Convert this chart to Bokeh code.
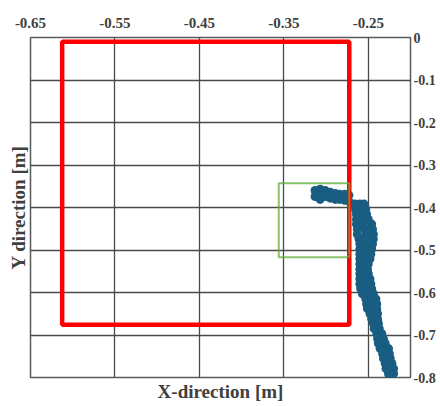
from bokeh.plotting import figure
from bokeh.models import LinearAxis, FixedTicker, Range1d
from bokeh.embed import file_html
from bokeh.resources import INLINE

# ---- data ----
x_ticks = [-0.65, -0.55, -0.45, -0.35, -0.25]
x_tick_labels = ["-0.65", "-0.55", "-0.45", "-0.35", "-0.25"]
x_grid = [-0.65, -0.55, -0.45, -0.35, -0.25]
y_ticks = [0.0, -0.1, -0.2, -0.3, -0.4, -0.5, -0.6, -0.7, -0.8]
y_tick_labels = ["0", "-0.1", "-0.2", "-0.3", "-0.4", "-0.5", "-0.6", "-0.7", "-0.8"]

# red workspace rectangle
red_box = dict(left=-0.6125, right=-0.2725, top=-0.010, bottom=-0.676)
# green region rectangle
green_box = dict(left=-0.356, right=-0.2725, top=-0.343, bottom=-0.517)

# trajectory: head part
head_x = [-0.313, -0.313, -0.307, -0.307, -0.307, -0.301, -0.301, -0.295, -0.295,
          -0.289, -0.289, -0.284, -0.284, -0.278, -0.278, -0.273, -0.273]
head_y = [-0.360, -0.374, -0.357, -0.371, -0.381, -0.360, -0.374, -0.364, -0.378,
          -0.367, -0.381, -0.369, -0.381, -0.369, -0.383, -0.371, -0.385]

# trajectory: descending part (y level, x positions across the trail)
trail_rows = [
    (-0.392, [-0.266, -0.260, -0.255]),
    (-0.404, [-0.265, -0.259, -0.253]),
    (-0.416, [-0.264, -0.258, -0.252]),
    (-0.428, [-0.264, -0.257, -0.250]),
    (-0.439, [-0.264, -0.256, -0.246]),
    (-0.451, [-0.263, -0.254, -0.245]),
    (-0.463, [-0.263, -0.253, -0.244]),
    (-0.474, [-0.261, -0.253, -0.244]),
    (-0.486, [-0.260, -0.253, -0.245]),
    (-0.498, [-0.260, -0.253, -0.246]),
    (-0.510, [-0.260, -0.253, -0.247]),
    (-0.521, [-0.260, -0.254, -0.248]),
    (-0.533, [-0.260, -0.254, -0.250]),
    (-0.545, [-0.260, -0.256, -0.251]),
    (-0.556, [-0.260, -0.254, -0.250]),
    (-0.568, [-0.260, -0.254, -0.248]),
    (-0.580, [-0.260, -0.253, -0.247]),
    (-0.591, [-0.259, -0.252, -0.246]),
    (-0.603, [-0.257, -0.251, -0.244]),
    (-0.615, [-0.253, -0.247, -0.241]),
    (-0.627, [-0.252, -0.246, -0.240]),
    (-0.638, [-0.251, -0.245, -0.240]),
    (-0.650, [-0.248, -0.244, -0.239]),
    (-0.662, [-0.246, -0.243, -0.239]),
    (-0.673, [-0.244, -0.240, -0.238]),
    (-0.685, [-0.243, -0.239, -0.237]),
    (-0.697, [-0.240, -0.237, -0.234]),
    (-0.709, [-0.239, -0.236, -0.232]),
    (-0.720, [-0.238, -0.233, -0.230]),
    (-0.732, [-0.236, -0.231, -0.226]),
    (-0.744, [-0.233, -0.229, -0.225]),
    (-0.755, [-0.232, -0.227, -0.224]),
    (-0.767, [-0.230, -0.225, -0.222]),
    (-0.779, [-0.229, -0.224, -0.220]),
    (-0.791, [-0.226, -0.223, -0.220]),
    (-0.798, [-0.225, -0.222]),
]

traj_x = list(head_x)
traj_y = list(head_y)
for yy, xs in trail_rows:
    for xx in xs:
        traj_x.append(xx)
        traj_y.append(yy)

# ---- styles ----
FONT = "Liberation Serif"
TXT = "#404040"
GRID = "#4a4a4a"


def bare(ax):
    ax.axis_line_color = None
    ax.major_tick_line_color = None
    ax.minor_tick_line_color = None
    ax.major_tick_out = 0
    ax.major_tick_in = 0
    ax.minor_tick_out = 0
    ax.minor_tick_in = 0


p = figure(width=438, height=404,
           x_range=Range1d(-0.65, -0.20), y_range=Range1d(-0.80, 0.0),
           x_axis_location="above", y_axis_location="left",
           output_backend="svg", toolbar_location=None,
           min_border_left=30, min_border_right=26,
           min_border_top=37, min_border_bottom=25)
p.background_fill_color = "white"
p.border_fill_color = "white"
p.outline_line_color = "#5a5a5a"
p.outline_line_width = 1.5

# top axis with tick labels
ax_top = p.xaxis[0]
bare(ax_top)
ax_top.ticker = FixedTicker(ticks=x_ticks)
ax_top.major_label_overrides = {t: l for t, l in zip(x_ticks, x_tick_labels)}
ax_top.major_label_standoff = 10
ax_top.major_label_text_font = FONT
ax_top.major_label_text_font_style = "bold"
ax_top.major_label_text_font_size = "15px"
ax_top.major_label_text_color = TXT

# bottom axis: title only
ax_bot = LinearAxis(ticker=FixedTicker(ticks=[]), axis_label="X-direction [m]")
bare(ax_bot)
ax_bot.major_label_standoff = 0
ax_bot.axis_label_standoff = 3
ax_bot.axis_label_text_font = FONT
ax_bot.axis_label_text_font_style = "bold"
ax_bot.axis_label_text_font_size = "19px"
ax_bot.axis_label_text_color = TXT
p.add_layout(ax_bot, "below")

# left axis: title only
ax_left = p.yaxis[0]
bare(ax_left)
ax_left.ticker = FixedTicker(ticks=[])
ax_left.axis_label = "Y direction [m]"
ax_left.major_label_standoff = 0
ax_left.axis_label_standoff = 2
ax_left.axis_label_text_font = FONT
ax_left.axis_label_text_font_style = "bold"
ax_left.axis_label_text_font_size = "19px"
ax_left.axis_label_text_color = TXT

# right axis: tick labels only
ax_right = LinearAxis(ticker=FixedTicker(ticks=y_ticks))
bare(ax_right)
ax_right.major_label_overrides = {t: l for t, l in zip(y_ticks, y_tick_labels)}
ax_right.major_label_standoff = 3
ax_right.major_label_text_font = FONT
ax_right.major_label_text_font_style = "bold"
ax_right.major_label_text_font_size = "14px"
ax_right.major_label_text_color = TXT
p.add_layout(ax_right, "right")

# grid
p.xgrid.ticker = FixedTicker(ticks=x_grid)
p.ygrid.ticker = FixedTicker(ticks=y_ticks)
for g in (p.xgrid[0], p.ygrid[0]):
    g.grid_line_color = GRID
    g.grid_line_width = 1.3

# trajectory
p.scatter(traj_x, traj_y, size=9, color="#195e82", line_width=0)

# rectangles
p.quad(left=[red_box["left"]], right=[red_box["right"]],
       top=[red_box["top"]], bottom=[red_box["bottom"]],
       fill_color=None, line_color="#ff0000", line_width=4.5)
p.quad(left=[green_box["left"]], right=[green_box["right"]],
       top=[green_box["top"]], bottom=[green_box["bottom"]],
       fill_color=None, line_color="#5fae3c", line_alpha=0.75, line_width=2)

open("out.html", "w").write(file_html(p, INLINE))
